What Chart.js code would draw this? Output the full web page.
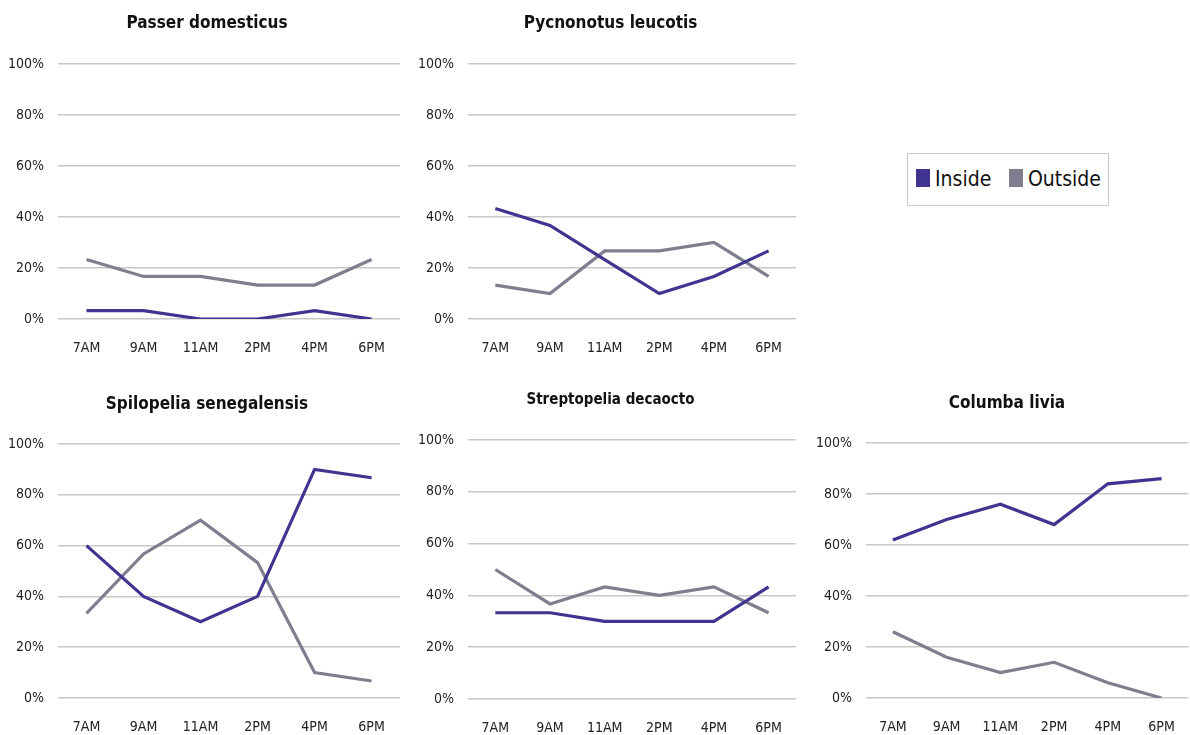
<!DOCTYPE html>
<html>
<head>
<meta charset="utf-8">
<script src="https://cdn.jsdelivr.net/npm/chart.js@4.4.1/dist/chart.umd.min.js"></script>
<style>
  html, body { margin: 0; padding: 0; background: #fff; }
  body { width: 1190px; height: 735px; position: relative; overflow: hidden; font-family: "Liberation Sans Narrow", "DejaVu Sans Condensed", sans-serif; }
  .box { position: absolute; }
  #legend { position: absolute; left: 907px; top: 153px; width: 202px; height: 53px; border: 1px solid #c8c8c8; box-sizing: border-box; font-size: 21px; color: #111; }
  .sw { position: absolute; width: 14px; height: 18px; top: 15px; }
  .lt { position: absolute; top: 9px; line-height: 32px; }
</style>
</head>
<body>
<div class="box" id="b0" style="left:0px;top:0px;width:406px;height:358px"><canvas id="c0"></canvas></div>
<div class="box" id="b1" style="left:410px;top:0px;width:393px;height:358px"><canvas id="c1"></canvas></div>
<div class="box" id="b2" style="left:0px;top:370px;width:406px;height:365px"><canvas id="c2"></canvas></div>
<div class="box" id="b3" style="left:410px;top:370px;width:393px;height:365px"><canvas id="c3"></canvas></div>
<div class="box" id="b4" style="left:808px;top:370px;width:388px;height:365px"><canvas id="c4"></canvas></div>
<div id="legend">
  <div class="sw" id="swIn" style="left:8px"></div><div class="lt" style="left:27px">Inside</div>
  <div class="sw" id="swOut" style="left:101px"></div><div class="lt" style="left:120px">Outside</div>
</div>
<script>
const categories = ["7AM", "9AM", "11AM", "2PM", "4PM", "6PM"];
const seriesNames = ["Inside", "Outside"];
const yTicks = [0, 20, 40, 60, 80, 100];

const titles = ["Passer domesticus", "Pycnonotus leucotis", "Spilopelia senegalensis", "Streptopelia decaocto", "Columba livia"];

const passerInside = [3.3, 3.3, 0, 0, 3.3, 0];
const passerOutside = [23.3, 16.7, 16.7, 13.3, 13.3, 23.3];

const pycnonotusInside = [43.3, 36.7, 23.3, 10, 16.7, 26.7];
const pycnonotusOutside = [13.3, 10, 26.7, 26.7, 30, 16.7];

const spilopeliaInside = [60, 40, 30, 40, 90, 86.7];
const spilopeliaOutside = [33.3, 56.7, 70, 53.3, 10, 6.7];

const streptopeliaInside = [33.3, 33.3, 30, 30, 30, 43.3];
const streptopeliaOutside = [50, 36.7, 43.3, 40, 43.3, 33.3];

const columbaInside = [62, 70, 76, 68, 84, 86];
const columbaOutside = [26, 16, 10, 14, 6, 0];

const insideColor = "#3f3590";
const outsideColor = "#7d7f8e";
document.getElementById("swIn").style.background = insideColor;
document.getElementById("swOut").style.background = outsideColor;

const FONT = "'Liberation Sans Narrow', 'DejaVu Sans Condensed', sans-serif";

const panels = [
  { id: "c0", title: titles[0], inside: passerInside, outside: passerOutside, titleSize: 17, titleTop: 13, titleBottom: 30.6, titleDx: 5, yW: 58, padR: 2, xH: 39 },
  { id: "c1", title: titles[1], inside: pycnonotusInside, outside: pycnonotusOutside, titleSize: 17, titleTop: 13, titleBottom: 30.6, titleDx: 5, yW: 58, padR: 2, xH: 39 },
  { id: "c2", title: titles[2], inside: spilopeliaInside, outside: spilopeliaOutside, titleSize: 17, titleTop: 24, titleBottom: 29.6, titleDx: 5, yW: 58, padR: 2, xH: 37 },
  { id: "c3", title: titles[3], inside: streptopeliaInside, outside: streptopeliaOutside, titleSize: 15, titleTop: 21.5, titleBottom: 30.5, titleDx: 5, yW: 58, padR: 2, xH: 36 },
  { id: "c4", title: titles[4], inside: columbaInside, outside: columbaOutside, titleSize: 17, titleTop: 23, titleBottom: 29.6, titleDx: 6, yW: 58, padR: 2, xH: 37 }
];

const shiftTitle = {
  id: "shiftTitle",
  afterLayout(chart, args, opts) {
    const t = chart.titleBlock;
    if (t && opts.dx) { t.left += opts.dx; t.right += opts.dx; }
  }
};

panels.forEach(p => {
  new Chart(document.getElementById(p.id), {
    type: "line",
    data: {
      labels: categories,
      datasets: [
        { label: seriesNames[0], data: p.inside, borderColor: insideColor, backgroundColor: insideColor, borderWidth: 3.2, pointRadius: 0, tension: 0 },
        { label: seriesNames[1], data: p.outside, borderColor: outsideColor, backgroundColor: outsideColor, borderWidth: 3.2, pointRadius: 0, tension: 0 }
      ]
    },
    plugins: [shiftTitle],
    options: {
      responsive: true,
      maintainAspectRatio: false,
      animation: false,
      layout: { padding: { left: 0, right: p.padR, top: 0, bottom: 0 } },
      plugins: {
        legend: { display: false },
        tooltip: { enabled: false },
        shiftTitle: { dx: p.titleDx },
        title: {
          display: true,
          text: p.title,
          color: "#111",
          font: { family: FONT, size: p.titleSize, weight: "bold", lineHeight: 1.2 },
          padding: { top: p.titleTop, bottom: p.titleBottom }
        }
      },
      scales: {
        x: {
          offset: true,
          grid: { display: false, drawTicks: false },
          border: { display: false },
          ticks: { color: "#222", font: { family: FONT, size: 14 }, padding: 21, maxRotation: 0, autoSkip: false },
          afterFit: s => { s.height = p.xH; }
        },
        y: {
          min: 0,
          max: 100,
          afterBuildTicks: s => { s.ticks = yTicks.map(v => ({ value: v })); },
          grid: { color: "#c8c8c8", lineWidth: 1.5, drawTicks: false },
          border: { display: false },
          ticks: { color: "#222", font: { family: FONT, size: 14 }, padding: 14, callback: v => v + "%" },
          afterFit: s => { s.width = p.yW; }
        }
      }
    }
  });
});
</script>
</body>
</html>
